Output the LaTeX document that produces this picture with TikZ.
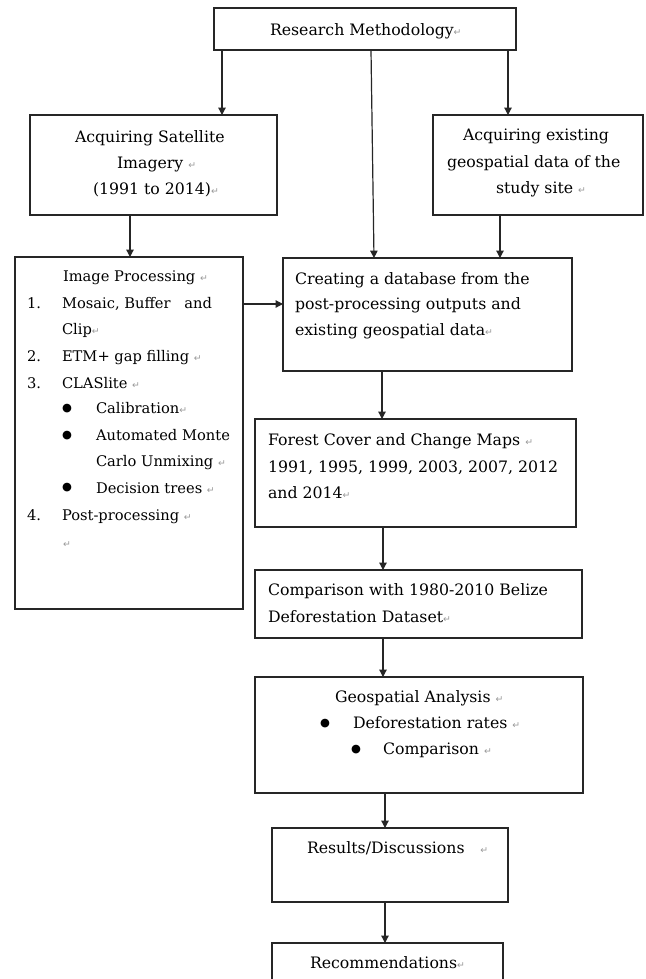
\documentclass[tikz,border=0pt]{standalone}
\usepackage{fontspec}
\setmainfont{DejaVu Serif}
\newfontfamily\symfont{DejaVu Sans}
\usetikzlibrary{arrows.meta,calc,fit}
\newcommand{\parmark}{{\symfont\fontsize{7}{7}\selectfont\color{gray!80}↵}}
\newcommand{\bul}{{\symfont\fontsize{8.5}{8.5}\selectfont ●}}
\begin{document}
\begin{tikzpicture}[x=0.75pt,y=-0.75pt,
  box/.style={draw=black!85, line width=1pt, inner sep=0pt, outer sep=0pt},
  txt/.style={anchor=base west, inner sep=0pt, outer sep=0pt, font=\fontsize{11.8}{14}\selectfont},
  iptxt/.style={txt, font=\fontsize{11}{13}\selectfont},
  bnode/.style={anchor=center, inner sep=0pt, outer sep=0pt},
  arr/.style={draw=black!85, line width=0.9pt, -{Triangle[length=5.5pt,width=5.5pt]}}]
\clip (0,0) rectangle (646,979);
\fill[white] (0,0) rectangle (646,979);
% boxes
\coordinate (rm1) at (214,8); \coordinate (rm2) at (516,50);
\node[box, fit=(rm1)(rm2)] (rm) {};
\coordinate (sa1) at (30,115); \coordinate (sa2) at (277,215);
\node[box, fit=(sa1)(sa2)] (sat) {};
\coordinate (ex1) at (433,115); \coordinate (ex2) at (643,215);
\node[box, fit=(ex1)(ex2)] (exist) {};
\coordinate (ip1) at (15,257); \coordinate (ip2) at (243,609);
\node[box, fit=(ip1)(ip2)] (ip) {};
\coordinate (db1) at (283,258); \coordinate (db2) at (572,371);
\node[box, fit=(db1)(db2)] (db) {};
\coordinate (fc1) at (255,419); \coordinate (fc2) at (576,527);
\node[box, fit=(fc1)(fc2)] (forest) {};
\coordinate (cp1) at (255,570); \coordinate (cp2) at (582,638);
\node[box, fit=(cp1)(cp2)] (comp) {};
\coordinate (ga1) at (255,677); \coordinate (ga2) at (583,793);
\node[box, fit=(ga1)(ga2)] (geo) {};
\coordinate (rs1) at (272,828); \coordinate (rs2) at (508,902);
\node[box, fit=(rs1)(rs2)] (res) {};
\coordinate (rc1) at (272,943); \coordinate (rc2) at (503,1010);
\node[box, fit=(rc1)(rc2)] (rec) {};
% connector x positions
\coordinate (xa) at (222,0);
\coordinate (xb) at (371,0);
\coordinate (xb2) at (374,0);
\coordinate (xc) at (508,0);
\coordinate (xd) at (130,0);
\coordinate (xe) at (500,0);
\coordinate (xf) at (382,0);
\coordinate (xg) at (383,0);
\coordinate (xh) at (385,0);
\coordinate (yi) at (0,304);
% connectors
\draw[arr] (rm.south -| xa) -- (sat.north -| xa);
\draw[arr] (rm.south -| xb) -- (db.north -| xb2);
\draw[arr] (rm.south -| xc) -- (exist.north -| xc);
\draw[arr] (sat.south -| xd) -- (ip.north -| xd);
\draw[arr] (exist.south -| xe) -- (db.north -| xe);
\draw[arr] (ip.east |- yi) -- (db.west |- yi);
\draw[arr] (db.south -| xf) -- (forest.north -| xf);
\draw[arr] (forest.south -| xg) -- (comp.north -| xg);
\draw[arr] (comp.south -| xg) -- (geo.north -| xg);
\draw[arr] (geo.south -| xh) -- (res.north -| xh);
\draw[arr] (res.south -| xh) -- (rec.north -| xh);
% texts
\node[txt] (t1) at (270,35) {Research Methodology\parmark};
\node[txt] (t2) at (75,142) {Acquiring Satellite};
\node[txt] (t3) at (117,168) {Imagery \parmark};
\node[txt] (t4) at (93,194) {(1991 to 2014)\parmark};
\node[txt] (t5) at (463,140) {Acquiring existing};
\node[txt] (t6) at (447,167) {geospatial data of the};
\node[txt] (t7) at (496,193) {study site \parmark};
\node[iptxt] (t8) at (63,281) {Image Processing \parmark};
\node[iptxt] (n1) at (27,308) {1.};
\node[iptxt] (t9) at (62,308) {\makebox[112.5pt][s]{Mosaic, Buffer\hfill and}};
\node[iptxt] (t10) at (62,334) {Clip\parmark};
\node[iptxt] (n2) at (27,361) {2.};
\node[iptxt] (t11) at (62,361) {ETM+ gap filling \parmark};
\node[iptxt] (n3) at (27,388) {3.};
\node[iptxt] (t12) at (62,388) {CLASlite \parmark};
\node[bnode] (b1) at (67,409) {\bul};
\node[iptxt] (t13) at (96,413) {Calibration\parmark};
\node[bnode] (b2) at (67,436) {\bul};
\node[iptxt] (t14) at (96,440) {\makebox[100.5pt][s]{Automated\hfill Monte}};
\node[iptxt] (t15) at (96,466) {Carlo Unmixing \parmark};
\node[bnode] (b3) at (67,488) {\bul};
\node[iptxt] (t16) at (96,493) {Decision trees \parmark};
\node[iptxt] (n4) at (27,520) {4.};
\node[iptxt] (t17) at (62,520) {Post-processing \parmark};
\node[iptxt] (t18) at (63,547) {\parmark};
\node[txt] (t19) at (295,284) {Creating a database from the};
\node[txt] (t20) at (295,309) {post-processing outputs and};
\node[txt] (t21) at (295,335) {existing geospatial data\parmark};
\node[txt] (t22) at (268,445) {Forest Cover and Change Maps \parmark};
\node[txt] (t23) at (268,472) {1991, 1995, 1999, 2003, 2007, 2012};
\node[txt] (t24) at (268,498) {and 2014\parmark};
\node[txt] (t25) at (268,595) {Comparison with 1980-2010 Belize};
\node[txt] (t26) at (268,622) {Deforestation Dataset\parmark};
\node[txt] (t27) at (335,702) {Geospatial Analysis \parmark};
\node[bnode] (b4) at (325,724) {\bul};
\node[txt] (t28) at (353,728) {Deforestation rates \parmark};
\node[bnode] (b5) at (356,750) {\bul};
\node[txt] (t29) at (383,754) {Comparison \parmark};
\node[txt] (t30) at (307,853) {Results/Discussions\quad\parmark};
\node[txt] (t31) at (310,968) {Recommendations\parmark};
\end{tikzpicture}
\end{document}
